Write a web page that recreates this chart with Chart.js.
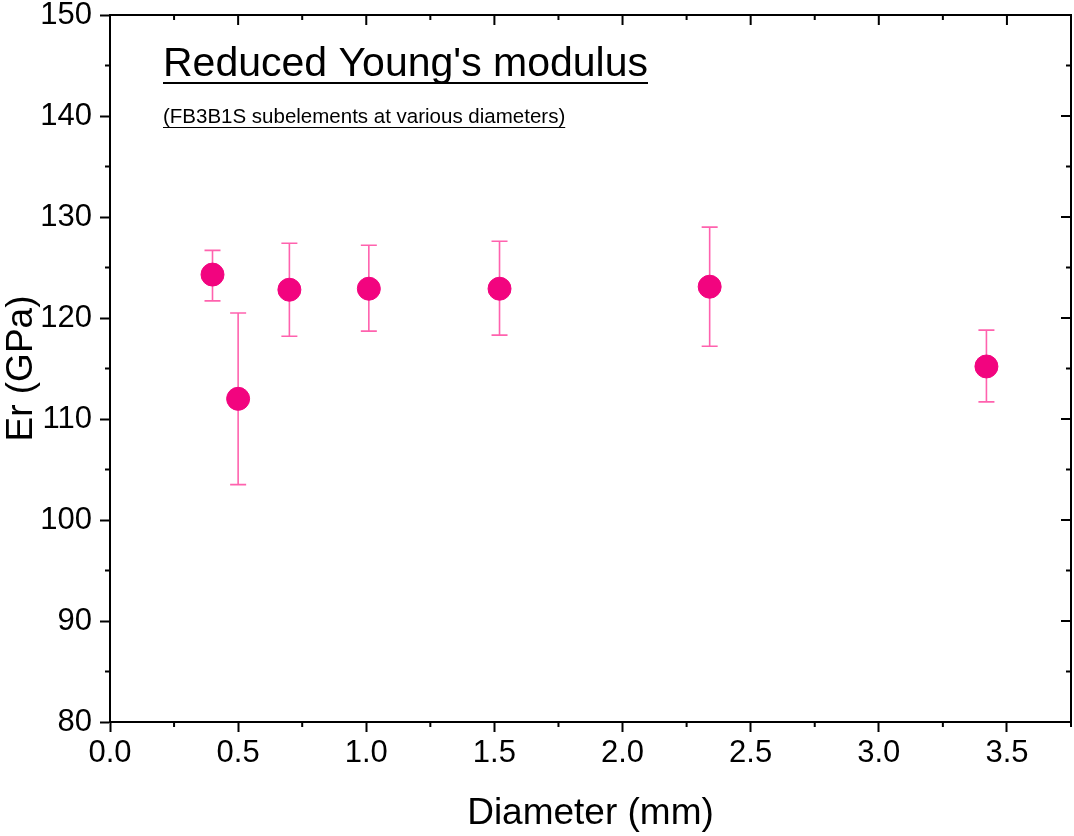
<!DOCTYPE html>
<html>
<head>
<meta charset="utf-8">
<title>Reduced Young's modulus</title>
<script src="https://cdn.jsdelivr.net/npm/chart.js@4"></script>
<style>
  body { margin: 0; background: #fff; }
</style>
</head>
<body>
<canvas id="chart" width="1074" height="836"></canvas>
<script>
// values
const diameters = [0.4, 0.5, 0.7, 1.01, 1.52, 2.34, 3.42];
const modulus = [124.3, 112.0, 122.8, 122.9, 122.9, 123.1, 115.2];
const errHigh = [126.7, 120.5, 127.4, 127.2, 127.6, 129.0, 118.8];
const errLow = [121.7, 103.5, 118.2, 118.7, 118.3, 117.2, 111.7];

const xTicks = [0, 0.5, 1.0, 1.5, 2.0, 2.5, 3.0, 3.5];
const yTicks = [80, 90, 100, 110, 120, 130, 140, 150];

const mainTitle = "Reduced Young's modulus";
const subTitle = "(FB3B1S subelements at various diameters)";

const pink = "#F2047F";
const barPink = "rgba(255, 70, 160, 0.85)";
const font = "'Liberation Sans', Arial, sans-serif";

// error bars drawn under the points
const errorBars = {
  id: "errorBars",
  beforeDatasetsDraw(chart) {
    const { ctx, scales: { x, y } } = chart;
    ctx.save();
    ctx.strokeStyle = barPink;
    ctx.lineWidth = 1.6;
    diameters.forEach((d, i) => {
      const px = x.getPixelForValue(d);
      const top = y.getPixelForValue(errHigh[i]);
      const bot = y.getPixelForValue(errLow[i]);
      ctx.beginPath();
      ctx.moveTo(px, top); ctx.lineTo(px, bot);
      ctx.moveTo(px - 8, top); ctx.lineTo(px + 8, top);
      ctx.moveTo(px - 8, bot); ctx.lineTo(px + 8, bot);
      ctx.stroke();
    });
    ctx.restore();
  }
};

// frame, inside ticks on top/right, minor ticks, underlined titles
const frame = {
  id: "frame",
  afterDraw(chart) {
    const { ctx, chartArea: a, scales: { x, y } } = chart;
    ctx.save();
    ctx.strokeStyle = "#000";
    ctx.lineWidth = 2;
    ctx.beginPath();
    ctx.moveTo(a.left, a.top); ctx.lineTo(a.right, a.top); ctx.lineTo(a.right, a.bottom);
    ctx.stroke();

    ctx.beginPath();
    xTicks.forEach(v => {
      const px = x.getPixelForValue(v);
      ctx.moveTo(px, a.top); ctx.lineTo(px, a.top + 10);
      const m = x.getPixelForValue(v + 0.25);
      if (m <= a.right) {
        ctx.moveTo(m, a.top); ctx.lineTo(m, a.top + 5);
        ctx.moveTo(m, a.bottom); ctx.lineTo(m, a.bottom + 5);
      }
    });
    yTicks.forEach(v => {
      const py = y.getPixelForValue(v);
      ctx.moveTo(a.right, py); ctx.lineTo(a.right - 10, py);
      if (v < 150) {
        const m = y.getPixelForValue(v + 5);
        ctx.moveTo(a.right, m); ctx.lineTo(a.right - 5, m);
        ctx.moveTo(a.left, m); ctx.lineTo(a.left - 5, m);
      }
    });
    ctx.stroke();

    ctx.fillStyle = "#000";
    ctx.textBaseline = "alphabetic";
    ctx.font = "41px " + font;
    const tx = a.left + 53;
    ctx.fillText(mainTitle, tx, a.top + 61);
    let w = ctx.measureText(mainTitle).width;
    ctx.fillRect(tx, a.top + 67, w, 2);

    ctx.font = "20.5px " + font;
    ctx.fillText(subTitle, tx, a.top + 108);
    w = ctx.measureText(subTitle).width;
    ctx.fillRect(tx, a.top + 112, w, 1);
    ctx.restore();
  }
};

new Chart(document.getElementById("chart"), {
  type: "scatter",
  data: {
    datasets: [{
      label: "Er",
      data: diameters.map((d, i) => ({ x: d, y: modulus[i] })),
      backgroundColor: pink,
      borderColor: pink,
      pointRadius: 11.5,
      pointHoverRadius: 11.5
    }]
  },
  options: {
    responsive: false,
    animation: false,
    layout: { autoPadding: false, padding: { left: 0, top: 15, right: 3, bottom: 0 } },
    plugins: {
      legend: { display: false },
      tooltip: { enabled: false }
    },
    scales: {
      x: {
        type: "linear",
        min: 0,
        max: 3.75,
        afterBuildTicks: s => { s.ticks = xTicks.map(v => ({ value: v })); },
        afterFit: s => { s.height = 114; s.paddingLeft = 0; s.paddingRight = 0; },
        ticks: {
          color: "#000",
          font: { family: font, size: 31 },
          padding: 3,
          maxRotation: 0,
          callback: v => Number(v).toFixed(1)
        },
        grid: { drawOnChartArea: false, tickLength: 10, tickColor: "#000", tickWidth: 2 },
        border: { color: "#000", width: 2 },
        title: {
          display: true,
          text: "Diameter (mm)",
          color: "#000",
          font: { family: font, size: 37 },
          padding: { top: 0, bottom: 0 }
        }
      },
      y: {
        min: 80,
        max: 150,
        afterBuildTicks: s => { s.ticks = yTicks.map(v => ({ value: v })); },
        afterFit: s => { s.width = 110; s.paddingTop = 0; s.paddingBottom = 0; },
        ticks: {
          color: "#000",
          font: { family: font, size: 31 },
          padding: 8
        },
        grid: { drawOnChartArea: false, tickLength: 10, tickColor: "#000", tickWidth: 2 },
        border: { color: "#000", width: 2 },
        title: {
          display: true,
          text: "Er (GPa)",
          color: "#000",
          font: { family: font, size: 37 },
          padding: { top: 0, bottom: 0 }
        }
      }
    }
  },
  plugins: [errorBars, frame]
});
</script>
</body>
</html>
